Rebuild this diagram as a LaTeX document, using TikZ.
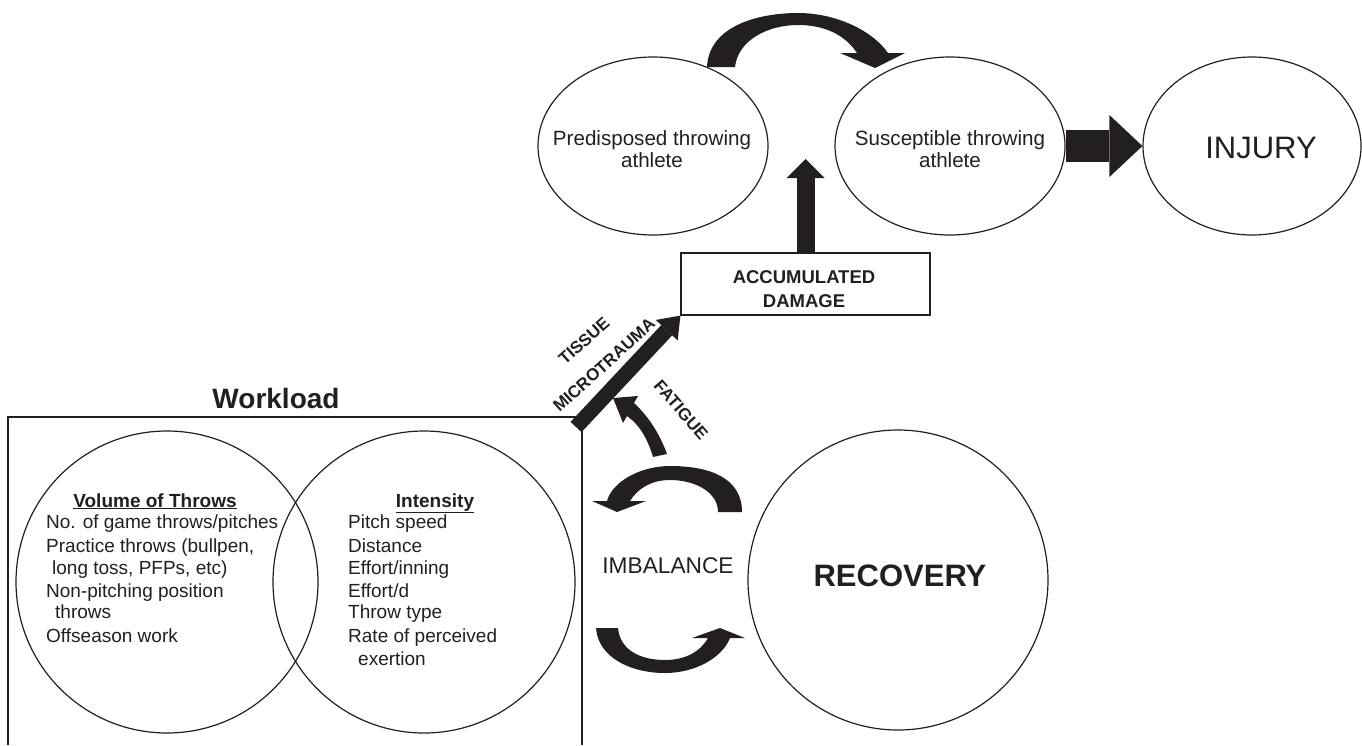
\documentclass[tikz,border=0pt]{standalone}
\usepackage{fontspec}
\setmainfont{Liberation Sans}
\usetikzlibrary{arrows.meta,shapes.geometric}
\definecolor{ink}{RGB}{35,31,32}
\begin{document}
\begin{tikzpicture}[x=1pt,y=-1pt,
  thinline/.style={draw=ink,line width=1.2pt},
  ell/.style={ellipse,thinline,inner sep=0pt},
  elltxt/.style={inner sep=0pt,align=center,text=ink,font=\fontsize{20.6}{22.5}\selectfont},
  body/.style={anchor=base west,inner sep=0pt,text=ink,font=\fontsize{19}{19}\selectfont},
  headtxt/.style={anchor=base,inner sep=0pt,text=ink,font=\bfseries\fontsize{19}{19}\selectfont},
  lbl/.style={inner sep=0pt,text=ink,font=\bfseries\fontsize{17}{17}\selectfont},
  fatarrow/.style={draw=ink,line width=#1},
]
\useasboundingbox (0,0) rectangle (1362,745);

% ---- top row ellipses
\node[ell,minimum width=230pt,minimum height=178pt] (pre) at (653,146) {};
\node[elltxt] (pret) at (652,149) {Predisposed throwing\\athlete};
\node[ell,minimum width=230pt,minimum height=178pt] (sus) at (950,146) {};
\node[elltxt] (sust) at (950,149) {Susceptible throwing\\athlete};
\node[ell,minimum width=218pt,minimum height=178pt] (inj) at (1252,146) {};
\node[anchor=base,inner sep=0pt,text=ink,font=\fontsize{31}{31}\selectfont] (injt) at (1261,158) {INJURY};

% ---- accumulated damage box
\node[rectangle,thinline,minimum width=249pt,minimum height=62pt,inner sep=0pt] (acc) at (805.5,284) {};
\node[inner sep=0pt,align=center,text=ink,font=\bfseries\fontsize{18.5}{24}\selectfont] (acct) at (804,289) {ACCUMULATED\\DAMAGE};

% ---- workload box
\draw[thinline] (8,745) -- (8,417) coordinate (wlnw) -- (582,417) coordinate (wlne) -- (582,745);
\node[anchor=base,inner sep=0pt,text=ink,font=\bfseries\fontsize{28}{28}\selectfont] (wl) at (276,408) {Workload};

\node[circle,thinline,minimum size=302pt,inner sep=0pt] (vol) at (167,582) {};
\node[circle,thinline,minimum size=302pt,inner sep=0pt] (int) at (424,582) {};

\node[headtxt] (volh) at (155,507) {\underline{Volume of Throws}};
\node[body] (v1) at (46,528) {No. of game throws/pitches};
\node[body] (v2) at (46,552) {Practice throws (bullpen,};
\node[body] (v3) at (52,574) {long toss, PFPs, etc)};
\node[body] (v4) at (46,597) {Non-pitching position};
\node[body] (v5) at (55,618) {throws};
\node[body] (v6) at (46,642) {Offseason work};

\node[headtxt] (inth) at (435,507) {\underline{Intensity}};
\node[body] (i1) at (348,528) {Pitch speed};
\node[body] (i2) at (348,552) {Distance};
\node[body] (i3) at (348,574) {Effort/inning};
\node[body] (i4) at (348,597) {Effort/d};
\node[body] (i5) at (348,618) {Throw type};
\node[body] (i6) at (348,642) {Rate of perceived};
\node[body] (i7) at (358,665) {exertion};

% ---- recovery
\node[circle,thinline,minimum size=300pt,inner sep=0pt] (rec) at (898,580) {};
\node[anchor=base,inner sep=0pt,text=ink,font=\bfseries\fontsize{31}{31}\selectfont] (rect) at (900,586) {RECOVERY};
\node[anchor=base,inner sep=0pt,text=ink,font=\fontsize{22.7}{23}\selectfont] (imb) at (668,573) {IMBALANCE};

% ---- straight fat arrows
\draw[fatarrow=32pt,-{Triangle[length=33pt,width=62pt,line width=0pt]}] (sus.east) -- (inj.west);
\coordinate (uptip) at (acc.north |- 0,159);
\draw[fatarrow=18pt,-{Triangle[length=19pt,width=38pt,line width=0pt]}] (acc.north) -- (uptip);
\coordinate (tt) at (576,427);
\draw[fatarrow=15pt,-{Triangle[length=20pt,width=30pt,line width=0pt]}] (tt) -- (acc.south west);

% ---- labels on arrows
\node[lbl,rotate=42] (tis) at (584,341) {TISSUE};
\node[lbl,rotate=42] (mic) at (604,365) {MICROTRAUMA};
\node[lbl,rotate=-49] (fat) at (681,410) {FATIGUE};

% ---- curved fat arrows (drawn as shapes)
% predisposed -> susceptible
\fill[ink] (707,67) .. controls (709,25) and (760,13) .. (798,13)
  .. controls (835,13) and (872,30) .. (888,53)
  -- (905,53) -- (875,68) -- (840,53) -- (857,53)
  .. controls (845,35) and (825,25) .. (798,25)
  .. controls (768,25) and (738,40) .. (735,67) -- cycle;
% fatigue
\fill[ink] (653,457) .. controls (648,440) and (640,425) .. (627,416)
  -- (623,423) -- (613,398) -- (638,396) -- (634,403)
  .. controls (650,418) and (660,435) .. (667,454) -- cycle;
% upper imbalance arrow
\fill[ink] (742,512) .. controls (742,478) and (710,466) .. (670,466)
  .. controls (640,466) and (612,482) .. (607,501)
  -- (592,501) -- (617,512) -- (646,501) -- (630,501)
  .. controls (638,488) and (652,480) .. (670,480)
  .. controls (695,480) and (718,492) .. (718,512) -- cycle;
% lower imbalance arrow
\fill[ink] (596,628) .. controls (598,657) and (630,673) .. (665,673)
  .. controls (695,673) and (722,658) .. (730,638)
  -- (745,638) -- (720,628) -- (692,638) -- (708,638)
  .. controls (700,652) and (685,660) .. (665,660)
  .. controls (640,660) and (620,650) .. (618,628) -- cycle;
\end{tikzpicture}
\end{document}
